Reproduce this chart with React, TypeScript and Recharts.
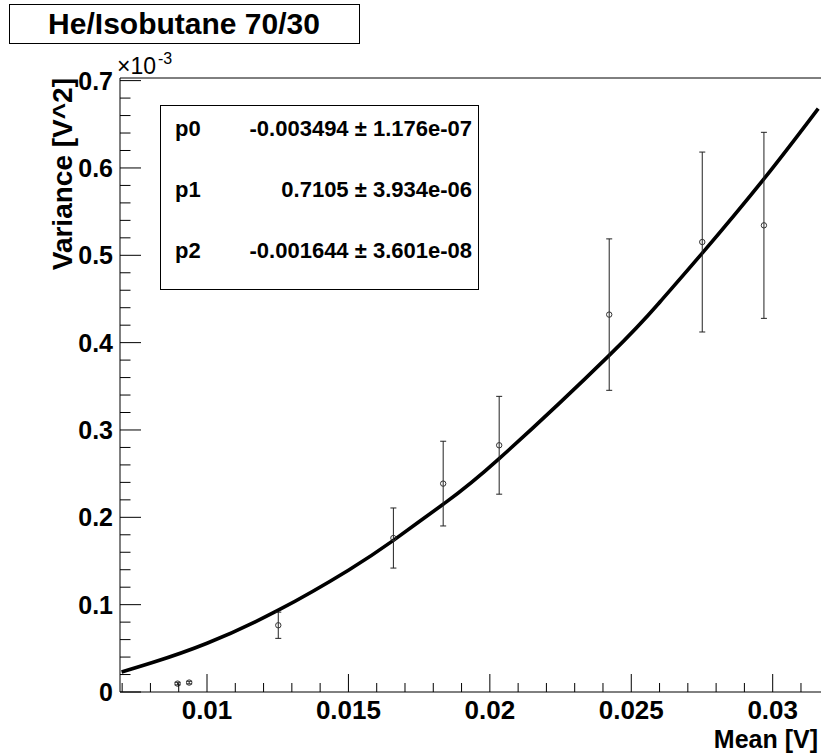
import React from 'react';
import {
  ComposedChart,
  Line,
  Scatter,
  XAxis,
  YAxis,
  ErrorBar,
  ReferenceLine,
} from 'recharts';

// Measured points (Mean [V], Variance [V^2] x 1e-3, symmetric error)
const meanV = [0.00896, 0.00937, 0.01252, 0.01659, 0.01835, 0.02033, 0.02422, 0.02751, 0.02969];
const variance = [0.0096, 0.0108, 0.0764, 0.1763, 0.2386, 0.2825, 0.4321, 0.5152, 0.5343];
const varianceErr = [0.0015, 0.0015, 0.015, 0.0344, 0.0485, 0.056, 0.0867, 0.103, 0.1065];

// Fit curve
const fitX = [0.00698, 0.0081, 0.01, 0.01252, 0.015, 0.01659, 0.01835, 0.02033, 0.02422, 0.02602, 0.02751, 0.02969, 0.03161];
const fitY = [0.0229, 0.0340, 0.0558, 0.0937, 0.1395, 0.1736, 0.2150, 0.2672, 0.3854, 0.4468, 0.5025, 0.5875, 0.668];

// Axes
const xDomain = [0.006924, 0.031708];
const yDomain = [0, 0.703];
const xMajor = [0.01, 0.015, 0.02, 0.025, 0.03];
const xMajorLabels = ['0.01', '0.015', '0.02', '0.025', '0.03'];
const xMinor = [0.007, 0.008, 0.009, 0.011, 0.012, 0.013, 0.014, 0.016, 0.017, 0.018, 0.019, 0.021, 0.022, 0.023, 0.024, 0.026, 0.027, 0.028, 0.029, 0.031];
const yMajor = [0, 0.1, 0.2, 0.3, 0.4, 0.5, 0.6, 0.7];
const yMajorLabels = ['0', '0.1', '0.2', '0.3', '0.4', '0.5', '0.6', '0.7'];
const yMinor = [0.02, 0.04, 0.06, 0.08, 0.12, 0.14, 0.16, 0.18, 0.22, 0.24, 0.26, 0.28, 0.32, 0.34, 0.36, 0.38, 0.42, 0.44, 0.46, 0.48, 0.52, 0.54, 0.56, 0.58, 0.62, 0.64, 0.66, 0.68];

// Texts
const titleText = 'He/Isobutane 70/30';
const xTitle = 'Mean [V]';
const yTitle = 'Variance [V^2]';
const statNames = ['p0', 'p1', 'p2'];
const statValues = ['-0.003494 \u00b1 1.176e-07', '0.7105 \u00b1 3.934e-06', '-0.001644 \u00b1 3.601e-08'];

const FONT = '"Liberation Sans", Arial, Helvetica, sans-serif';

const pointData = meanV.map((x, i) => ({ x, y: variance[i], err: varianceErr[i] }));
const fitData = fitX.map((x, i) => ({ x, y: fitY[i] }));

const findIdx = (arr: number[], v: number) => arr.findIndex((a) => Math.abs(a - v) < 1e-9);

const XTick = (props: any) => {
  const { x, y, payload } = props;
  const i = findIdx(xMajor, payload.value);
  const major = i >= 0;
  return (
    <g>
      <line x1={x} y1={y} x2={x} y2={y - (major ? 18 : 9)} stroke="#000" strokeWidth={1} />
      {major && (
        <text x={x} y={y + 27} textAnchor="middle" fontFamily={FONT} fontWeight="bold" fontSize={26} fill="#000">
          {xMajorLabels[i]}
        </text>
      )}
    </g>
  );
};

const YTick = (props: any) => {
  const { x, y, payload } = props;
  const i = findIdx(yMajor, payload.value);
  const major = i >= 0;
  return (
    <g>
      <line x1={x} y1={y} x2={x + (major ? 21 : 10.5)} y2={y} stroke="#000" strokeWidth={1} />
      {major && (
        <text x={x - 7} y={y + 9} textAnchor="end" fontFamily={FONT} fontWeight="bold" fontSize={25} fill="#000">
          {yMajorLabels[i]}
        </text>
      )}
    </g>
  );
};

const Marker = (props: any) => {
  const { cx, cy } = props;
  return <circle cx={cx} cy={cy} r={2.7} fill="none" stroke="#333" strokeWidth={1} />;
};

export default function App() {
  return (
    <div style={{ position: 'absolute', left: 0, top: 0, width: 821, height: 754, background: '#fff' }}>
      <ComposedChart
        width={821}
        height={754}
        margin={{ top: 78, right: 0, bottom: 0, left: 0 }}
      >
        <XAxis
          dataKey="x"
          type="number"
          domain={xDomain}
          ticks={[...xMinor, ...xMajor].sort((a, b) => a - b)}
          interval={0}
          tickLine={false}
          tickSize={0}
          tickMargin={0}
          height={62}
          axisLine={{ stroke: '#000', strokeWidth: 1 }}
          tick={<XTick />}
          allowDataOverflow
        />
        <YAxis
          dataKey="y"
          type="number"
          domain={yDomain}
          ticks={[...yMinor, ...yMajor].sort((a, b) => a - b)}
          interval={0}
          tickLine={false}
          tickSize={0}
          tickMargin={0}
          width={120}
          axisLine={{ stroke: '#000', strokeWidth: 1 }}
          tick={<YTick />}
          allowDataOverflow
        />
        <ReferenceLine y={yDomain[1]} stroke="#000" strokeWidth={1} />
        <Line
          data={fitData}
          dataKey="y"
          type="natural"
          stroke="#000"
          strokeWidth={3.6}
          dot={false}
          isAnimationActive={false}
        />
        <Scatter data={pointData} dataKey="y" shape={<Marker />} isAnimationActive={false}>
          <ErrorBar dataKey="err" direction="y" width={3} stroke="#222" strokeWidth={1} />
        </Scatter>
      </ComposedChart>
      <svg
        width={821}
        height={754}
        style={{ position: 'absolute', left: 0, top: 0, pointerEvents: 'none' }}
      >
        {/* title box */}
        <rect x={9.5} y={4.5} width={350} height={39} fill="#fff" stroke="#000" strokeWidth={1} />
        <text x={184} y={34} textAnchor="middle" fontFamily={FONT} fontWeight="bold" fontSize={30} fill="#000">
          {titleText}
        </text>
        {/* exponent */}
        <text x={117} y={74} fontFamily={FONT} fontSize={23} fill="#000">
          {'\u00d710'}
        </text>
        <text x={158} y={64} fontFamily={FONT} fontSize={16} fill="#000">
          -3
        </text>
        {/* axis titles */}
        <text
          transform="translate(72,78) rotate(-90)"
          textAnchor="end"
          fontFamily={FONT}
          fontWeight="bold"
          fontSize={28}
          fill="#000"
        >
          {yTitle}
        </text>
        <text x={818} y={748} textAnchor="end" fontFamily={FONT} fontWeight="bold" fontSize={25} fill="#000">
          {xTitle}
        </text>
        {/* stats box */}
        <rect x={160.5} y={105.5} width={318} height={184} fill="#fff" stroke="#000" strokeWidth={1} />
        {statNames.map((n, i) => (
          <g key={n}>
            <text x={175} y={136 + i * 61} fontFamily={FONT} fontWeight="bold" fontSize={22} fill="#000">
              {n}
            </text>
            <text x={472} y={136 + i * 61} textAnchor="end" fontFamily={FONT} fontWeight="bold" fontSize={22} fill="#000">
              {statValues[i]}
            </text>
          </g>
        ))}
      </svg>
    </div>
  );
}
